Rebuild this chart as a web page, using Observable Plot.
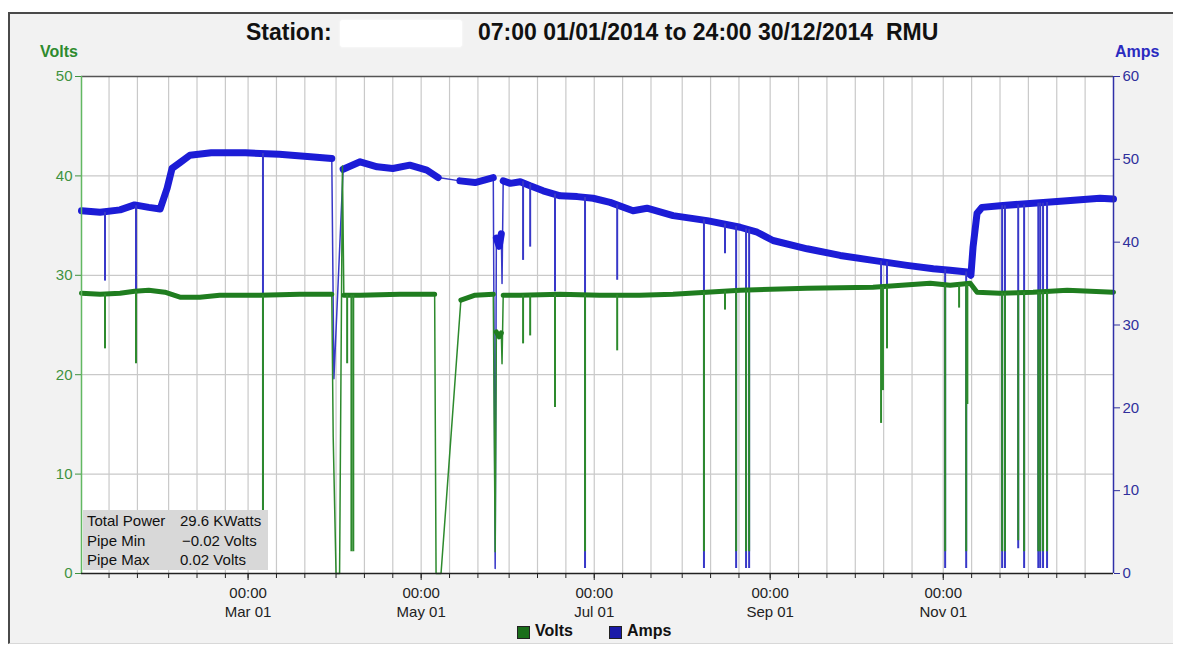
<!DOCTYPE html>
<html><head><meta charset="utf-8">
<script src="https://cdn.jsdelivr.net/npm/d3@7"></script>
<script src="https://cdn.jsdelivr.net/npm/@observablehq/plot@0.6"></script>
<style>
html,body{margin:0;padding:0;background:#fff;width:1177px;height:646px;overflow:hidden;font-family:"Liberation Sans",Arial,sans-serif;}
#box{position:absolute;left:8px;top:12px;width:1165px;height:632px;background:#f2f2f2;border-top:2px solid #4a4a4a;border-left:2px solid #4a4a4a;border-bottom:1px solid #d8d8d8;box-sizing:border-box;}
#chart{position:absolute;left:0;top:40px;}
.t{position:absolute;white-space:pre;}
.title{top:18px;font-weight:bold;font-size:23px;line-height:28px;color:#111;}
#redact{position:absolute;left:340px;top:20px;width:122px;height:27px;background:#fff;border-radius:3px;box-shadow:0 0 3px #fff;}
.axlab{font-weight:bold;font-size:16px;line-height:18px;top:43px;}
#info{position:absolute;left:83px;top:510px;width:185px;height:60px;background:#d8d8d8;font-size:15px;line-height:19.5px;color:#111;}
#info div{position:relative;height:19.5px;}
#info span{position:absolute;top:1px;}
#legend{position:absolute;top:622px;left:0;width:1177px;height:18px;font-weight:bold;font-size:16px;color:#111;}
.sw{position:absolute;top:3px;width:11px;height:11px;border:1px solid #222;}
</style></head>
<body>
<div id="box"></div>
<div class="t title" style="left:246px">Station:</div>
<div id="redact"></div>
<div class="t title" style="left:478px">07:00 01/01/2014 to 24:00 30/12/2014  RMU</div>
<div class="t axlab" id="vlab" style="left:40px;color:#2e8b2e">Volts</div>
<div class="t axlab" id="alab" style="left:1115px;color:#2b2bc0">Amps</div>
<div id="chart"></div>
<div id="info"></div>
<div id="legend"></div>
<script>
// ---- data ----
const voltTicks = [0, 10, 20, 30, 40, 50];
const ampTicks = [0, 10, 20, 30, 40, 50, 60];
const xLabelDates = ["2014-03-01 00:00", "2014-05-01 00:00", "2014-07-01 00:00", "2014-09-01 00:00", "2014-11-01 00:00"];
const xDomain = ["2014-01-01 07:00", "2014-12-31 00:00"];

// [time, amps, segment]  (segment -1 = isolated point joined only by thin line)
const ampsSeries = [
  ["2014-01-01 07:00", 43.8, 0], ["2014-01-07 20:00", 43.6, 0], ["2014-01-14 21:00", 43.9, 0],
  ["2014-01-20 00:00", 44.5, 0], ["2014-01-25 00:00", 44.2, 0], ["2014-01-29 00:00", 44.0, 0],
  ["2014-01-31 11:00", 46.5, 0], ["2014-02-02 05:00", 48.9, 0], ["2014-02-05 00:00", 49.6, 0],
  ["2014-02-08 12:00", 50.5, 0], ["2014-02-16 00:00", 50.8, 0], ["2014-02-28 00:00", 50.8, 0],
  ["2014-03-12 00:00", 50.6, 0], ["2014-03-23 00:00", 50.3, 0], ["2014-03-30 12:00", 50.1, 0],
  ["2014-03-31 06:00", 23.5, -1],
  ["2014-04-03 12:00", 48.8, 1], ["2014-04-09 12:00", 49.7, 1], ["2014-04-15 12:00", 49.1, 1],
  ["2014-04-21 00:00", 48.9, 1], ["2014-04-27 00:00", 49.3, 1], ["2014-05-03 00:00", 48.7, 1],
  ["2014-05-07 00:00", 47.8, 1],
  ["2014-05-14 16:00", 47.4, 2], ["2014-05-20 00:00", 47.2, 2], ["2014-05-26 10:00", 47.8, 2],
  ["2014-05-27 02:00", 0.6, -1],
  ["2014-05-27 12:00", 40.5, 3], ["2014-05-28 12:00", 39.5, 3], ["2014-05-29 06:00", 41.0, 3],
  ["2014-05-29 12:00", 35.0, -1],
  ["2014-05-29 22:00", 47.4, 4], ["2014-06-01 10:00", 47.1, 4], ["2014-06-04 22:00", 47.3, 4],
  ["2014-06-08 10:00", 46.8, 4], ["2014-06-13 00:00", 46.2, 4], ["2014-06-19 00:00", 45.6, 4],
  ["2014-06-25 00:00", 45.5, 4], ["2014-06-30 14:00", 45.3, 4], ["2014-07-06 14:00", 44.8, 4],
  ["2014-07-14 16:00", 43.8, 4], ["2014-07-19 14:00", 44.1, 4], ["2014-07-28 19:00", 43.2, 4],
  ["2014-08-09 19:00", 42.6, 4], ["2014-08-21 10:00", 41.8, 4], ["2014-08-27 10:00", 41.2, 4],
  ["2014-09-02 00:00", 40.2, 4], ["2014-09-14 00:00", 39.2, 4], ["2014-09-25 16:00", 38.4, 4],
  ["2014-10-07 06:00", 37.8, 4], ["2014-10-19 06:00", 37.2, 4], ["2014-10-28 12:00", 36.8, 4],
  ["2014-11-03 10:00", 36.6, 4], ["2014-11-09 10:00", 36.4, 4], ["2014-11-10 18:00", 36.0, 4],
  ["2014-11-11 12:00", 39.4, 4], ["2014-11-12 22:00", 43.5, 4], ["2014-11-14 16:00", 44.2, 4],
  ["2014-11-21 00:00", 44.4, 4], ["2014-12-02 16:00", 44.7, 4], ["2014-12-14 16:00", 45.0, 4],
  ["2014-12-26 06:00", 45.3, 4], ["2014-12-31 00:00", 45.2, 4]
];

// [time, volts, segment]
const voltsSeries = [
  ["2014-01-01 07:00", 28.2, 0], ["2014-01-07 20:00", 28.1, 0], ["2014-01-14 21:00", 28.2, 0],
  ["2014-01-20 00:00", 28.4, 0], ["2014-01-25 00:00", 28.5, 0], ["2014-01-30 16:00", 28.3, 0],
  ["2014-02-05 00:00", 27.8, 0], ["2014-02-12 00:00", 27.8, 0], ["2014-02-19 00:00", 28.0, 0],
  ["2014-03-05 04:00", 28.0, 0], ["2014-03-19 06:00", 28.1, 0], ["2014-03-30 12:00", 28.1, 0],
  ["2014-03-31 00:00", 13.7, -1], ["2014-04-01 00:00", 0, -1], ["2014-04-02 06:00", 0, -1],
  ["2014-04-03 06:00", 41.0, -1],
  ["2014-04-03 18:00", 28.0, 1], ["2014-04-09 12:00", 28.0, 1], ["2014-04-23 12:00", 28.1, 1],
  ["2014-05-05 18:00", 28.1, 1],
  ["2014-05-06 06:00", 0, -1], ["2014-05-08 00:00", 0, -1],
  ["2014-05-15 00:00", 27.5, 2], ["2014-05-20 00:00", 28.0, 2], ["2014-05-26 10:00", 28.1, 2],
  ["2014-05-27 02:00", 2.2, -1],
  ["2014-05-27 12:00", 24.3, 3], ["2014-05-28 12:00", 23.8, 3], ["2014-05-29 06:00", 24.2, 3],
  ["2014-05-29 12:00", 21.1, -1],
  ["2014-05-29 22:00", 28.0, 4], ["2014-06-04 22:00", 28.0, 4], ["2014-06-19 00:00", 28.1, 4],
  ["2014-07-03 00:00", 28.0, 4], ["2014-07-17 00:00", 28.0, 4], ["2014-07-28 18:00", 28.1, 4],
  ["2014-08-21 10:00", 28.5, 4], ["2014-09-14 00:00", 28.7, 4], ["2014-10-07 06:00", 28.8, 4],
  ["2014-10-27 10:00", 29.2, 4], ["2014-11-03 10:00", 29.0, 4], ["2014-11-10 12:00", 29.2, 4],
  ["2014-11-12 22:00", 28.3, 4], ["2014-11-21 00:00", 28.2, 4], ["2014-12-02 16:00", 28.3, 4],
  ["2014-12-14 16:00", 28.5, 4], ["2014-12-31 00:00", 28.3, 4]
];

// short drop-outs: [time, value before, lowest value]
const ampsDips = [
  ["2014-01-09 14:00", 43.6, 35.3], ["2014-01-20 12:00", 44.4, 34.2], ["2014-03-06 06:00", 50.7, 0.6],
  ["2014-06-05 22:00", 47.3, 37.8], ["2014-06-08 10:00", 47.0, 39.4], ["2014-06-17 04:00", 45.8, 34.0],
  ["2014-06-27 18:00", 45.4, 0.6], ["2014-07-09 02:00", 44.5, 35.4], ["2014-08-08 16:00", 42.7, 0.6],
  ["2014-08-16 02:00", 42.2, 38.6], ["2014-08-20 00:00", 41.9, 0.6], ["2014-08-23 12:00", 41.6, 0.6],
  ["2014-08-24 14:00", 41.5, 0.6], ["2014-10-10 02:00", 37.7, 34.5], ["2014-10-12 04:00", 37.6, 34.5],
  ["2014-11-01 16:00", 36.7, 0.6], ["2014-11-09 02:00", 36.4, 0.6], ["2014-11-21 18:00", 44.4, 0.6],
  ["2014-11-22 18:00", 44.4, 0.6], ["2014-11-27 10:00", 44.5, 3.0], ["2014-11-29 12:00", 44.5, 0.6],
  ["2014-12-04 12:00", 44.7, 0.6], ["2014-12-05 04:00", 44.7, 0.6], ["2014-12-06 04:00", 44.7, 0.6],
  ["2014-12-07 14:00", 44.8, 0.6]
];
const voltsDips = [
  ["2014-01-09 14:00", 28.1, 22.6], ["2014-01-20 12:00", 28.4, 21.1], ["2014-03-06 06:00", 28.0, 2.2],
  ["2014-04-04 22:00", 28.0, 21.1], ["2014-04-06 10:00", 28.0, 2.2], ["2014-04-07 02:00", 28.0, 2.2],
  ["2014-06-05 22:00", 28.0, 23.1], ["2014-06-08 10:00", 28.0, 23.9], ["2014-06-17 04:00", 28.0, 16.7],
  ["2014-06-27 18:00", 28.0, 2.2], ["2014-07-09 02:00", 28.0, 22.4], ["2014-08-08 16:00", 28.3, 2.2],
  ["2014-08-16 02:00", 28.4, 26.5], ["2014-08-20 00:00", 28.5, 2.2], ["2014-08-23 12:00", 28.5, 2.2],
  ["2014-08-24 14:00", 28.5, 2.2], ["2014-10-10 02:00", 28.8, 15.1], ["2014-10-10 18:00", 28.8, 18.4],
  ["2014-10-12 04:00", 28.8, 22.6], ["2014-11-01 16:00", 29.0, 2.2], ["2014-11-06 14:00", 29.0, 26.7],
  ["2014-11-09 02:00", 29.1, 2.2], ["2014-11-09 12:00", 29.1, 17.0], ["2014-11-21 18:00", 28.2, 2.2],
  ["2014-11-22 18:00", 28.2, 2.2], ["2014-11-27 10:00", 28.3, 3.3], ["2014-11-29 12:00", 28.3, 2.2],
  ["2014-12-04 12:00", 28.3, 2.2], ["2014-12-05 04:00", 28.3, 2.2], ["2014-12-06 04:00", 28.3, 2.2],
  ["2014-12-07 14:00", 28.3, 2.2]
];

const infoLabels = ["Total Power", "Pipe Min", "Pipe Max"];
const infoValues = ["29.6 KWatts", "\u22120.02 Volts", "0.02 Volts"];
const legendNames = ["Volts", "Amps"];

// ---- drawing ----
const GREEN = "#1f7d1f", GREEN_THIN = "#2d8a2d", BLUE = "#1c1cd6", BLUE_THIN = "#3838c8";
const parse = d3.utcParse("%Y-%m-%d %H:%M");
const K = 50 / 60; // amps -> volts-axis units
const x0 = parse(xDomain[0]), x1 = parse(xDomain[1]);

const aPts = ampsSeries.map(([d, v, s]) => ({t: parse(d), y: v * K, s}));
const vPts = voltsSeries.map(([d, v, s]) => ({t: parse(d), y: v, s}));
const aDip = ampsDips.map(([d, hi, lo]) => ({t: parse(d), hi: hi * K, lo: lo * K}));
const vDip = voltsDips.map(([d, hi, lo]) => ({t: parse(d), hi, lo}));

const minorTicks = d3.utcMonths(parse("2014-01-01 00:00"), parse("2015-01-01 00:00"))
  .flatMap(m => [1, 11, 21].map(day => new Date(Date.UTC(2014, m.getUTCMonth(), day))))
  .filter(d => d > x0 && d < x1);
const labelTicks = xLabelDates.map(parse);
const fmt = d3.utcFormat("%b %d");

const chart = Plot.plot({
  width: 1177, height: 580,
  marginLeft: 81, marginRight: 64, marginTop: 36, marginBottom: 47,
  x: {type: "utc", domain: [x0, x1]},
  y: {domain: [0, 50]},
  style: {background: "transparent", fontFamily: "Liberation Sans, Arial, sans-serif", fontSize: "15px", overflow: "visible"},
  marks: [
    Plot.frame({fill: "white", stroke: "none"}),
    Plot.gridX(minorTicks, {stroke: "#c9c9c9", strokeOpacity: 1, strokeWidth: 1.2}),
    Plot.gridY(voltTicks.filter(v => v > 0 && v < 50), {stroke: "#c9c9c9", strokeOpacity: 1, strokeWidth: 1.2}),
    Plot.line(aPts, {x: "t", y: "y", stroke: BLUE_THIN, strokeWidth: 1.5}),
    Plot.line(aPts.filter(d => d.s >= 0), {x: "t", y: "y", z: "s", stroke: BLUE, strokeWidth: 7, strokeLinejoin: "round"}),
    Plot.ruleX(aDip, {x: "t", y1: "lo", y2: "hi", stroke: BLUE_THIN, strokeWidth: 2}),
    Plot.line(vPts, {x: "t", y: "y", stroke: GREEN_THIN, strokeWidth: 1.5}),
    Plot.line(vPts.filter(d => d.s >= 0), {x: "t", y: "y", z: "s", stroke: GREEN, strokeWidth: 5, strokeLinejoin: "round"}),
    Plot.ruleX(vDip, {x: "t", y1: "lo", y2: "hi", stroke: GREEN_THIN, strokeWidth: 2}),
    Plot.ruleY([50], {stroke: "#555", strokeWidth: 1.5}),
    Plot.ruleX([x0], {stroke: "#62b862", strokeWidth: 1.5}),
    Plot.ruleX([x1], {stroke: "#3030a8", strokeWidth: 1.5}),
    Plot.ruleY([0], {stroke: "#222", strokeWidth: 1.5}),
    Plot.axisY(voltTicks, {anchor: "left", color: "#3f923f", tickSize: 6, tickPadding: 3, label: null}),
    Plot.axisY(ampTicks.map(a => a * K), {anchor: "right", tickFormat: d => String(Math.round(d / K)), color: "#30309c", tickSize: 6, tickPadding: 3, label: null}),
    Plot.axisX(minorTicks, {tickFormat: () => "", tickSize: 5, color: "#222", label: null}),
    Plot.axisX(labelTicks, {tickFormat: d => "00:00\n" + fmt(d), tickSize: 7, tickPadding: 4, color: "#222", lineHeight: 1.25, label: null})
  ]
});
document.getElementById("chart").appendChild(chart);

const info = document.getElementById("info");
infoLabels.forEach((l, i) => {
  const row = document.createElement("div");
  row.innerHTML = `<span style="left:4px">${l}</span><span style="left:${i === 1 ? 99 : 97}px">${infoValues[i]}</span>`;
  info.appendChild(row);
});
const legend = document.getElementById("legend");
const swColors = ["#1a6e1a", "#1a1aa8"];
const swLeft = [517, 609];
legendNames.forEach((n, i) => {
  const sw = document.createElement("div");
  sw.className = "sw"; sw.style.left = swLeft[i] + "px"; sw.style.top = "4px"; sw.style.background = swColors[i];
  legend.appendChild(sw);
  const tx = document.createElement("div");
  tx.className = "t"; tx.style.left = (swLeft[i] + 18) + "px"; tx.style.top = "0px"; tx.textContent = n;
  legend.appendChild(tx);
});
</script>
</body></html>
